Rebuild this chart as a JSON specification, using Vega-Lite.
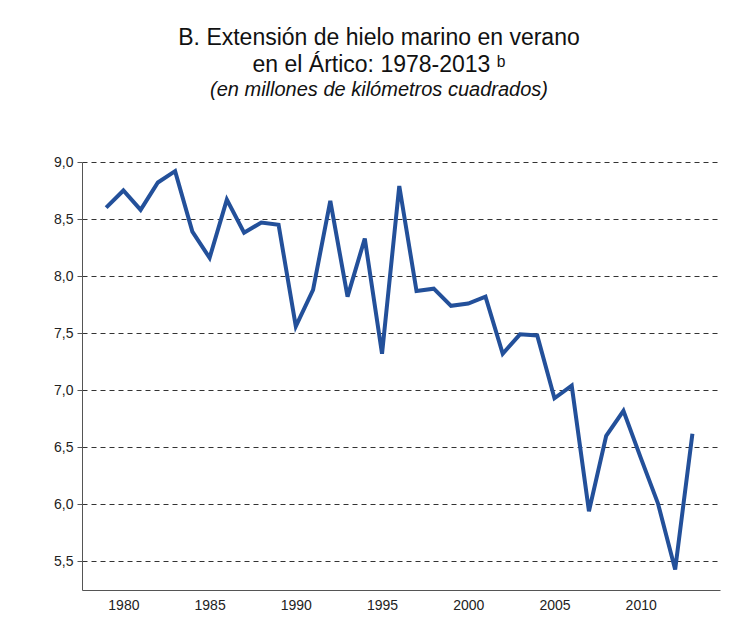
{
  "$schema": "https://vega.github.io/schema/vega-lite/v6.json",
  "autosize": "none",
  "padding": {"left": 82, "top": 162, "right": 28, "bottom": 31},
  "width": 638,
  "height": 428,
  "background": "white",
  "title": {
    "text": ["B. Extensión de hielo marino en verano", "en el Ártico: 1978-2013 ᵇ"],
    "subtitle": "(en millones de kilómetros cuadrados)",
    "anchor": "middle",
    "font": "Liberation Sans",
    "fontSize": 23,
    "fontWeight": "normal",
    "lineHeight": 27,
    "subtitleFont": "Liberation Sans",
    "subtitleFontSize": 20,
    "subtitleFontStyle": "italic",
    "subtitleColor": "#111",
    "color": "#111",
    "dx": -22,
    "offset": 55
  },
  "data": {
    "values": [
      {"year": 1979, "ext": 8.60}, {"year": 1980, "ext": 8.75}, {"year": 1981, "ext": 8.58},
      {"year": 1982, "ext": 8.82}, {"year": 1983, "ext": 8.92}, {"year": 1984, "ext": 8.39},
      {"year": 1985, "ext": 8.16}, {"year": 1986, "ext": 8.67}, {"year": 1987, "ext": 8.38},
      {"year": 1988, "ext": 8.47}, {"year": 1989, "ext": 8.45}, {"year": 1990, "ext": 7.56},
      {"year": 1991, "ext": 7.88}, {"year": 1992, "ext": 8.66}, {"year": 1993, "ext": 7.82},
      {"year": 1994, "ext": 8.33}, {"year": 1995, "ext": 7.32}, {"year": 1996, "ext": 8.79},
      {"year": 1997, "ext": 7.87}, {"year": 1998, "ext": 7.89}, {"year": 1999, "ext": 7.74},
      {"year": 2000, "ext": 7.76}, {"year": 2001, "ext": 7.82}, {"year": 2002, "ext": 7.32},
      {"year": 2003, "ext": 7.49}, {"year": 2004, "ext": 7.48}, {"year": 2005, "ext": 6.93},
      {"year": 2006, "ext": 7.04}, {"year": 2007, "ext": 5.94}, {"year": 2008, "ext": 6.60},
      {"year": 2009, "ext": 6.82}, {"year": 2010, "ext": 6.41}, {"year": 2011, "ext": 6.01},
      {"year": 2012, "ext": 5.43}, {"year": 2013, "ext": 6.62}
    ]
  },
  "mark": {"type": "line", "color": "#23509a", "strokeWidth": 4, "strokeJoin": "miter"},
  "encoding": {
    "x": {
      "field": "year", "type": "quantitative",
      "scale": {"domain": [1977.6, 2014.6], "nice": false, "zero": false},
      "axis": {"values": [1980, 1985, 1990, 1995, 2000, 2005, 2010], "format": "d", "grid": false,
               "ticks": false, "title": null, "domainColor": "#555", "labelPadding": 8}
    },
    "y": {
      "field": "ext", "type": "quantitative",
      "scale": {"domain": [5.25, 9.0], "nice": false, "zero": false},
      "axis": {"values": [5.5, 6.0, 6.5, 7.0, 7.5, 8.0, 8.5, 9.0], "labelExpr": "replace(format(datum.value, '.1f'), '.', ',')",
               "grid": true, "gridDash": [5, 4], "gridColor": "#333", "title": null, "domainColor": "#555",
               "tickColor": "#555", "tickSize": 5, "labelPadding": 4}
    }
  },
  "config": {
    "view": {"stroke": null},
    "axis": {"labelFont": "Liberation Sans", "labelFontSize": 14, "labelColor": "#222"}
  }
}
